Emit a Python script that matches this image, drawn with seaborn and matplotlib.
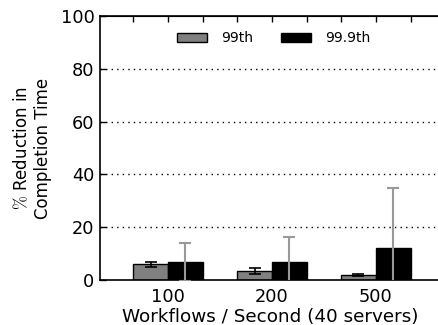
import matplotlib
matplotlib.use("Agg")
import matplotlib.pyplot as plt
import seaborn as sns
import pandas as pd
import numpy as np

rates = ["100", "200", "500"]
series = ["99th", "99.9th"]
p99 = [5.9, 3.5, 1.9]
p99_err = [1.1, 1.1, 0.4]
p999 = [6.8, 6.9, 12.2]
p999_err = [7.2, 9.3, 22.5]

sns.set_style("ticks")
plt.rcParams['font.family'] = ['DejaVu Sans']
plt.rcParams['mathtext.fontset'] = 'cm'
for k in ["text.color", "axes.labelcolor", "xtick.color", "ytick.color", "axes.edgecolor"]:
    plt.rcParams[k] = "black"

df = pd.DataFrame({
    "rate": rates * 2,
    "pct": [series[0]] * 3 + [series[1]] * 3,
    "val": p99 + p999,
})

fig = plt.figure(figsize=(4.39, 3.25), dpi=100)
ax = fig.add_axes([100 / 439, 1 - 280 / 325, 1.003 - 100 / 439, (280 - 16) / 325])

width = 0.67
sns.barplot(data=df, x="rate", y="val", hue="pct", order=rates, hue_order=series,
            palette=["#808080", "#000000"], width=width, errorbar=None,
            edgecolor="black", linewidth=1.0, saturation=1, ax=ax, legend=True)

bars = [p for p in ax.patches if p.get_height() > 0][:6]
vals = p99 + p999
errs = p99_err + p999_err
for i, b in enumerate(bars):
    cx = b.get_x() + b.get_width() / 2
    if i < 3:
        ax.errorbar(cx, vals[i], yerr=errs[i], fmt="none", ecolor="black",
                    elinewidth=1.2, capsize=4, capthick=1.2, zorder=5)
    else:
        ax.errorbar(cx, vals[i], yerr=errs[i], fmt="none", ecolor="#999999",
                    elinewidth=1.5, capsize=4, capthick=1.5, zorder=5)

ax.set_ylim(0, 100)
ax.set_xlim(-0.654, 2.62)
ax.set_yticks([0, 20, 40, 60, 80, 100])
for y in [20, 40, 60, 80]:
    ax.axhline(y, color="black", linestyle=(0, (1, 3)), linewidth=1.0, zorder=0)

ax.tick_params(axis="y", direction="in", length=4, width=1, labelsize=12.8, pad=4)
ax.tick_params(axis="x", bottom=False, length=0, labelsize=12.8, pad=6)

for s in ax.spines.values():
    s.set_linewidth(1.2)
    s.set_color("black")

edges = []
for i in range(3):
    edges += [i - width / 2, i, i + width / 2]
sec = ax.secondary_xaxis("top")
sec.set_xticks(edges)
sec.set_xticklabels([])
sec.tick_params(direction="in", length=4, width=1)

ax.set_xlabel("Workflows / Second (40 servers)", fontsize=13.2, labelpad=1)
ax.set_ylabel("$\\%$ Reduction in\nCompletion Time", fontsize=12, labelpad=6)

ax.legend(loc="upper center", bbox_to_anchor=(0.51, 0.99), ncol=2, frameon=False,
          fontsize=10, handlelength=2.2, handleheight=0.6, columnspacing=2.0,
          handletextpad=1.0)

fig.savefig("out.png", dpi=100)
